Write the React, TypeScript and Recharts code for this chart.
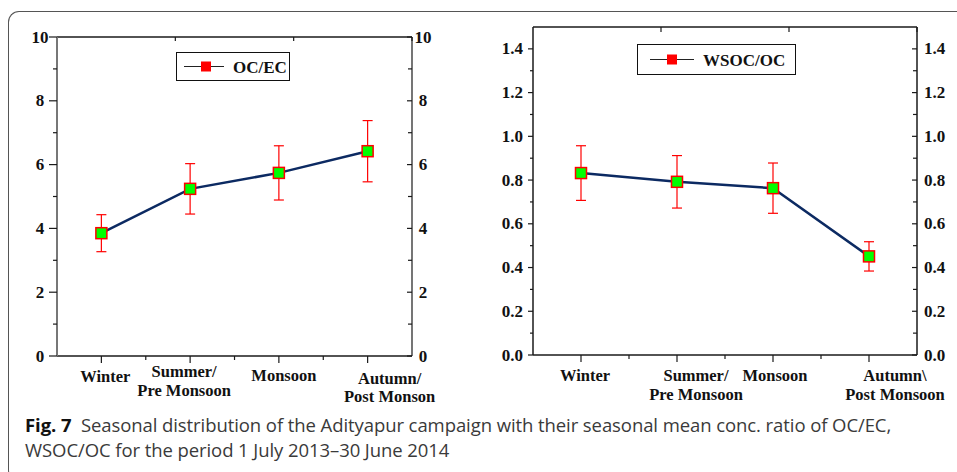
import React from "react";
import { ComposedChart, Line, XAxis, YAxis, ErrorBar, Legend } from "recharts";

// ---------- data ----------
const categoriesLeft = ["Winter", "Summer/\nPre Monsoon", "Monsoon", "Autumn/\nPost Monson"];
const ocEcMean = [3.85, 5.24, 5.74, 6.42];
const ocEcErr = [0.58, 0.79, 0.85, 0.96];

const categoriesRight = ["Winter", "Summer/\nPre Monsoon", "Monsoon", "Autumn\\\nPost Monsoon"];
const wsocOcMean = [0.832, 0.792, 0.763, 0.451];
const wsocOcErr = [0.125, 0.12, 0.115, 0.067];

const leftYTicks = [0, 1, 2, 3, 4, 5, 6, 7, 8, 9, 10];
const leftYLabels = ["0", "", "2", "", "4", "", "6", "", "8", "", "10"];
const rightYTicks = [0, 0.1, 0.2, 0.3, 0.4, 0.5, 0.6, 0.7, 0.8, 0.9, 1.0, 1.1, 1.2, 1.3, 1.4];
const rightYLabels = ["0.0", "", "0.2", "", "0.4", "", "0.6", "", "0.8", "", "1.0", "", "1.2", "", "1.4"];
const topTicks = [0, 1, 2, 3, 4, 5, 6, 7, 8, 9, 10];

const leftData = categoriesLeft.map((c, i) => ({ cat: c, mean: ocEcMean[i], err: ocEcErr[i] }));
const rightData = categoriesRight.map((c, i) => ({ cat: c, mean: wsocOcMean[i], err: wsocOcErr[i] }));

// ---------- styles ----------
const SERIF = "'Liberation Serif', 'Times New Roman', serif";
const LINE_COLOR = "#0c2a62";
const RED = "#ff0000";
const GREEN = "#00ff00";
const AXIS = "#1a1a1a";

const leftLabelLayout = { dx: [4, -6, 5, 22], dy: [[20], [15, 34], [19], [22, 40]] };
const rightLabelLayout = { dx: [4, 19, 2, 26], dy: [[20], [20, 39], [20], [20, 39]] };

const makeYTick =
  (labels: string[], ticks: number[], side: "left" | "right", majorLen: number, minorLen: number,
   labelDx: number, anchor: string, inward: boolean) =>
  (props: any) => {
    const { x, y, payload } = props;
    const idx = ticks.findIndex((t) => Math.abs(t - payload.value) < 1e-6);
    const label = idx >= 0 ? labels[idx] : "";
    const major = label !== "";
    const len = major ? majorLen : minorLen;
    let x1: number;
    if (side === "left") x1 = inward ? x + len : x - len;
    else x1 = inward ? x - len : x + len;
    return (
      <g>
        <line x1={x} y1={y} x2={x1} y2={y} stroke={AXIS} strokeWidth={1.2} />
        {major && (
          <text x={x + labelDx} y={y} textAnchor={anchor} dominantBaseline="central"
            fontFamily={SERIF} fontWeight="bold" fontSize={17} fill="#111">
            {label}
          </text>
        )}
      </g>
    );
  };

const makeTopTick = (len: number) => (props: any) => {
  const { x, y, payload } = props;
  if (payload.value === 0 || payload.value === 10) return <g />;
  return <line x1={x} y1={y} x2={x} y2={y + len} stroke={AXIS} strokeWidth={1.2} />;
};

const makeCatTick = (layout: { dx: number[]; dy: number[][] }, halfBand: number) => (props: any) => {
  const { x, y, payload, index } = props;
  const lines = String(payload.value).split("\n");
  return (
    <g>
      <line x1={x} y1={y} x2={x} y2={y + 7} stroke={AXIS} strokeWidth={1.2} />
      {index < 3 && (
        <line x1={x + halfBand} y1={y} x2={x + halfBand} y2={y + 4} stroke={AXIS} strokeWidth={1.2} />
      )}
      {lines.map((ln, i) => (
        <text key={i} x={x + layout.dx[index]} y={y + layout.dy[index][i]} textAnchor="middle"
          dominantBaseline="central" fontFamily={SERIF} fontWeight="bold" fontSize={16.5} fill="#111">
          {ln}
        </text>
      ))}
    </g>
  );
};

const SquareDot = (props: any) => {
  const { cx, cy } = props;
  if (cx == null || cy == null) return <g />;
  return <rect x={cx - 5.5} y={cy - 5.5} width={11} height={11} fill={GREEN} stroke={RED} strokeWidth={1.5} />;
};

const LegendBox = ({ w, h, lineFrom, lineTo, sq, textX, text }: any) => (
  <div style={{ position: "relative", width: w, height: h, border: "1.3px solid #111", boxSizing: "border-box", background: "#fff" }}>
    <svg width={w} height={h} style={{ position: "absolute", left: 0, top: 0 }}>
      <line x1={lineFrom} y1={h / 2 - 1} x2={lineTo} y2={h / 2 - 1} stroke="#222" strokeWidth={1.2} />
      <rect x={sq - 5} y={h / 2 - 6} width={10} height={10} fill={RED} />
      <text x={textX} y={h / 2} dominantBaseline="central" fontFamily={SERIF} fontWeight="bold" fontSize={17} fill="#111">
        {text}
      </text>
    </svg>
  </div>
);

export default function App() {
  return (
    <div style={{ position: "absolute", left: 0, top: 0, width: 957, height: 472, background: "#fff", overflow: "hidden" }}>
      {/* figure frame */}
      <div style={{ position: "absolute", left: 8, top: 11, width: 970, height: 470, borderLeft: "1.5px solid #555", borderTop: "1.5px solid #555", borderBottom: "1.5px solid #555", borderTopLeftRadius: 11, borderBottomLeftRadius: 11, boxSizing: "border-box" }} />

      {/* left chart */}
      <div style={{ position: "absolute", left: 0, top: 0 }}>
        <ComposedChart width={470} height={410} data={leftData} margin={{ top: 36, right: 18, bottom: 14, left: 0 }}>
          <XAxis xAxisId="b" dataKey="cat" type="category" scale="band" height={40} interval={0}
            axisLine={{ stroke: AXIS, strokeWidth: 1.5 }} tickLine={false} tickSize={0} tickMargin={0}
            tick={makeCatTick(leftLabelLayout, 44.4)} />
          <XAxis xAxisId="t" orientation="top" type="number" domain={[0, 10]} ticks={topTicks} allowDataOverflow
            height={1} axisLine={{ stroke: AXIS, strokeWidth: 1.5 }} tickLine={false} tickSize={0} tickMargin={0}
            tick={makeTopTick(4)} interval={0} />
          <YAxis yAxisId="l" type="number" domain={[0, 10]} ticks={leftYTicks} width={57} interval={0}
            axisLine={{ stroke: "#777", strokeWidth: 2 }} tickLine={false} tickSize={0} tickMargin={0}
            tick={makeYTick(leftYLabels, leftYTicks, "left", 8, 4, -17, "middle", false)} />
          <YAxis yAxisId="r" orientation="right" type="number" domain={[0, 10]} ticks={leftYTicks} width={40} allowDataOverflow interval={0}
            axisLine={{ stroke: AXIS, strokeWidth: 1.2 }} tickLine={false} tickSize={0} tickMargin={0}
            tick={makeYTick(leftYLabels, leftYTicks, "right", 5, 4, 11, "middle", true)} />
          <Legend layout="horizontal" verticalAlign="middle" align="center"
            wrapperStyle={{ left: 176, top: 52, width: 114, height: 29 }}
            content={() => <LegendBox w={114} h={29} lineFrom={7} lineTo={47} sq={29} textX={56} text="OC/EC" />} />
          <Line xAxisId="b" yAxisId="l" dataKey="mean" name="OC/EC" stroke={LINE_COLOR} strokeWidth={2.5}
            dot={<SquareDot />} activeDot={false} isAnimationActive={false} legendType="square">
            <ErrorBar dataKey="err" direction="y" width={5} stroke={RED} strokeWidth={1.2} />
          </Line>
        </ComposedChart>
      </div>

      {/* right chart */}
      <div style={{ position: "absolute", left: 470, top: 0 }}>
        <ComposedChart width={487} height={410} data={rightData} margin={{ top: 26, right: 10, bottom: 15, left: 0 }}>
          <XAxis xAxisId="b" dataKey="cat" type="category" scale="band" height={40} interval={0}
            axisLine={{ stroke: AXIS, strokeWidth: 1.5 }} tickLine={false} tickSize={0} tickMargin={0}
            tick={makeCatTick(rightLabelLayout, 48)} />
          <XAxis xAxisId="t" orientation="top" type="number" domain={[0, 10]} ticks={topTicks} allowDataOverflow
            height={1} axisLine={{ stroke: AXIS, strokeWidth: 1.5 }} tickLine={false} tickSize={0} tickMargin={0}
            tick={makeTopTick(5)} interval={0} />
          <YAxis yAxisId="l" type="number" domain={[0, 1.5]} ticks={rightYTicks} width={63} interval={0}
            axisLine={{ stroke: AXIS, strokeWidth: 1.5 }} tickLine={false} tickSize={0} tickMargin={0}
            tick={makeYTick(rightYLabels, rightYTicks, "left", 5, 3, -10, "end", false)} />
          <YAxis yAxisId="r" orientation="right" type="number" domain={[0, 1.5]} ticks={rightYTicks} width={30} allowDataOverflow interval={0}
            axisLine={{ stroke: AXIS, strokeWidth: 1.5 }} tickLine={false} tickSize={0} tickMargin={0}
            tick={makeYTick(rightYLabels, rightYTicks, "right", 5, 4, 7, "start", true)} />
          <Legend layout="horizontal" verticalAlign="middle" align="center"
            wrapperStyle={{ left: 167, top: 44, width: 159, height: 31 }}
            content={() => <LegendBox w={159} h={31} lineFrom={12} lineTo={56} sq={34} textX={65} text="WSOC/OC" />} />
          <Line xAxisId="b" yAxisId="l" dataKey="mean" name="WSOC/OC" stroke={LINE_COLOR} strokeWidth={2.5}
            dot={<SquareDot />} activeDot={false} isAnimationActive={false} legendType="square">
            <ErrorBar dataKey="err" direction="y" width={5} stroke={RED} strokeWidth={1.2} />
          </Line>
        </ComposedChart>
      </div>

      {/* caption */}
      <div style={{ position: "absolute", left: 25, top: 412, width: 930, whiteSpace: "nowrap", fontFamily: "'Open Sans', 'Noto Sans', sans-serif", fontSize: 18.5, lineHeight: "25px", color: "#3a3a3a", letterSpacing: -0.08 }}>
        <div><span style={{ fontWeight: "bold", color: "#111" }}>Fig. 7</span>&nbsp;&nbsp;Seasonal distribution of the Adityapur campaign with their seasonal mean conc. ratio of OC/EC,</div>
        <div>WSOC/OC for the period 1 July 2013–30 June 2014</div>
      </div>
    </div>
  );
}
